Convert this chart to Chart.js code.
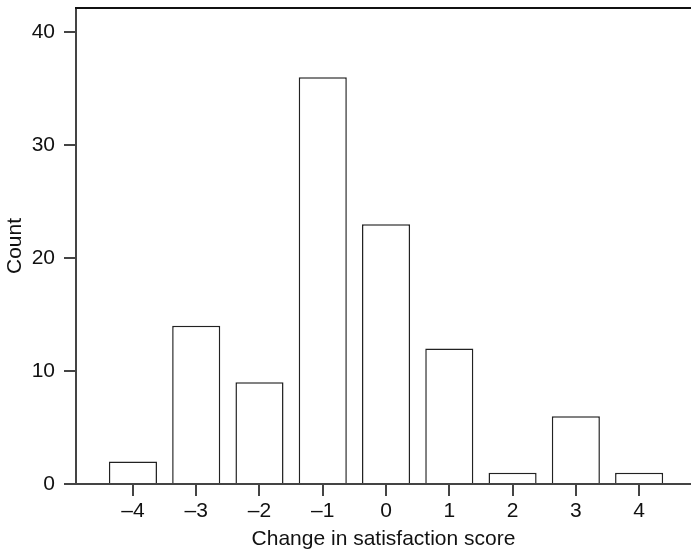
<!DOCTYPE html>
<html>
<head>
<meta charset="utf-8">
<script src="https://cdn.jsdelivr.net/npm/chart.js@4"></script>
<style>
body{margin:0;background:#fff}
#wrap{width:691px;height:553px}
</style>
</head>
<body>
<div id="wrap"><canvas id="hist" width="691" height="553"></canvas></div>
<script>
// change in satisfaction score -> count
const scores=[-4,-3,-2,-1,0,1,2,3,4]
const counts=[2,14,9,36,23,12,1,6,1]
const yTicks=[0,10,20,30,40]

const ink="#222"
const axisInk="#444"
const font={family:"'Liberation Sans', Arial, sans-serif",size:21}

// top edge of the frame, the other sides come from the axes
const topLine={
id:"topLine",
afterDraw(chart){
const a=chart.chartArea
const c=chart.ctx
c.save()
c.strokeStyle="#111"
c.lineWidth=2
c.beginPath()
c.moveTo(a.left-1,a.top)
c.lineTo(a.right,a.top)
c.stroke()
c.restore()
}
}

new Chart(document.getElementById("hist"),{
type:"bar",
data:{
datasets:[{
data:scores.map((s,i)=>({x:s,y:counts[i]})),
backgroundColor:"#fff",
borderColor:ink,
borderWidth:1.5,
categoryPercentage:1,
barPercentage:0.76
}]
},
options:{
responsive:false,
animation:false,
layout:{padding:{top:8,right:0,left:0,bottom:0}},
plugins:{legend:{display:false},tooltip:{enabled:false}},
scales:{
x:{
type:"linear",
offset:false,
min:-4.9,
max:4.82,
afterBuildTicks(axis){axis.ticks=scores.map(v=>({value:v}))},
afterFit(axis){axis.height=69;axis.paddingLeft=0;axis.paddingRight=0},
grid:{display:true,offset:false,drawOnChartArea:false,drawTicks:true,tickLength:12,color:axisInk,lineWidth:2},
border:{display:true,color:axisInk,width:2},
ticks:{color:"#111",font:font,padding:3,maxRotation:0,
callback:v=>v<0?"\u2013"+Math.abs(v):String(v)},
title:{display:true,text:"Change in satisfaction score",color:"#111",font:font,padding:{top:0,bottom:1}}
},
y:{
min:0,
max:42.13,
afterBuildTicks(axis){axis.ticks=yTicks.map(v=>({value:v}))},
afterFit(axis){axis.width=76;axis.paddingTop=0;axis.paddingBottom=0},
grid:{display:true,drawOnChartArea:false,drawTicks:true,tickLength:12,color:axisInk,lineWidth:2},
border:{display:true,color:axisInk,width:2},
ticks:{color:"#111",font:font,padding:9},
title:{display:true,text:"Count",color:"#111",font:font,padding:{top:2.6,bottom:0}}
}
}
},
plugins:[topLine]
})
</script>
</body>
</html>
